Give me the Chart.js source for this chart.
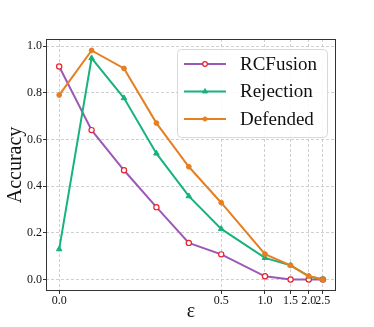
<!DOCTYPE html>
<html>
<head>
<meta charset="utf-8">
<script src="https://cdn.jsdelivr.net/npm/chart.js@4/dist/chart.umd.min.js"></script>
<style>
  html, body { margin: 0; padding: 0; background: #fff; }
  #wrap { width: 374px; height: 327px; }
</style>
</head>
<body>
<div id="wrap"><canvas id="chart1"></canvas></div>
<script>
// data
var epsilons = [0.0, 0.1, 0.2, 0.3, 0.4, 0.5, 1.0, 1.5, 2.0, 2.5];
var rcfusion = [0.912, 0.640, 0.468, 0.310, 0.157, 0.108, 0.014, 0.0, 0.0, 0.0];
var rejection = [0.130, 0.948, 0.777, 0.540, 0.357, 0.217, 0.093, 0.061, 0.014, 0.0];
var defended = [0.790, 0.981, 0.904, 0.670, 0.483, 0.329, 0.109, 0.061, 0.015, 0.0];
var xTicks = [0.0, 0.5, 1.0, 1.5, 2.0, 2.5];
var yTicks = [0.0, 0.2, 0.4, 0.6, 0.8, 1.0];

var serif = '"Liberation Serif", "Times New Roman", serif';

// x axis: linear up to 0.5, logarithmic after that
function fwd(v) { return v <= 0.5 ? v : 0.5 + 0.1948 * Math.log(v / 0.5); }
function inv(t) { return t <= 0.5 ? t : 0.5 * Math.exp((t - 0.5) / 0.1948); }

class PiecewiseScale extends Chart.LinearScale {
  getPixelForValue(value) {
    var a = fwd(this.min), b = fwd(this.max);
    return this.getPixelForDecimal((fwd(value) - a) / (b - a));
  }
  getValueForPixel(pixel) {
    var a = fwd(this.min), b = fwd(this.max);
    return inv(a + this.getDecimalForPixel(pixel) * (b - a));
  }
}
PiecewiseScale.id = 'piecewise';
PiecewiseScale.defaults = Chart.LinearScale.defaults;
Chart.register(PiecewiseScale);

function points(ys) {
  return ys.map(function (y, i) { return { x: epsilons[i], y: y }; });
}

var frame = {
  id: 'frame',
  afterDatasetsDraw: function (chart) {
    var a = chart.chartArea, ctx = chart.ctx;
    ctx.save();
    ctx.strokeStyle = '#333';
    ctx.lineWidth = 1;
    ctx.strokeRect(a.left + 0.5, a.top + 0.5, a.right - a.left - 1, a.bottom - a.top - 1);
    ctx.restore();
  }
};

var legendBox = {
  id: 'legendBox',
  afterDraw: function (chart) {
    var ctx = chart.ctx;
    var x = 177, y = 49, w = 150, h = 88;
    ctx.save();
    ctx.fillStyle = 'rgba(255,255,255,0.85)';
    ctx.strokeStyle = '#d8d8d8';
    ctx.lineWidth = 1;
    ctx.beginPath();
    ctx.roundRect(x + 0.5, y + 0.5, w, h, 4);
    ctx.fill();
    ctx.stroke();
    chart.data.datasets.forEach(function (ds, i) {
      var cy = 64 + i * 27.5;
      var r = ds.pointRadius - 0.3;
      ctx.strokeStyle = ds.borderColor;
      ctx.lineWidth = ds.borderWidth;
      ctx.beginPath();
      ctx.moveTo(184, cy);
      ctx.lineTo(226, cy);
      ctx.stroke();
      ctx.fillStyle = ds.pointBackgroundColor;
      ctx.strokeStyle = ds.pointBorderColor;
      ctx.lineWidth = ds.pointBorderWidth;
      ctx.beginPath();
      if (ds.pointStyle === 'triangle') {
        ctx.moveTo(205, cy - r);
        ctx.lineTo(205 + r * 0.87, cy + r * 0.5);
        ctx.lineTo(205 - r * 0.87, cy + r * 0.5);
        ctx.closePath();
      } else {
        ctx.arc(205, cy, r, 0, Math.PI * 2);
      }
      ctx.fill();
      ctx.stroke();
      ctx.fillStyle = '#111';
      ctx.font = '19px ' + serif;
      ctx.textBaseline = 'middle';
      ctx.fillText(ds.label, 240, cy + 1);
    });
    ctx.restore();
  }
};

var gridOpts = {
  color: '#c4c4c4',
  lineWidth: 0.8,
  tickLength: 3,
  tickColor: '#333',
  tickWidth: 1
};

var ctx = document.getElementById('chart1').getContext('2d');
var chart = new Chart(ctx, {
  type: 'line',
  data: {
    datasets: [{
      label: 'RCFusion',
      data: points(rcfusion),
      borderColor: '#9b59b6',
      pointStyle: 'circle',
      pointRadius: 2.6,
      pointBorderWidth: 1.2,
      pointBackgroundColor: '#ffffff',
      pointBorderColor: '#e8202a',
      borderWidth: 2,
      order: 3
    }, {
      label: 'Rejection',
      data: points(rejection),
      borderColor: '#16b37b',
      pointStyle: 'triangle',
      pointRadius: 3.2,
      pointBorderWidth: 1,
      pointBackgroundColor: '#16b37b',
      pointBorderColor: '#16b37b',
      borderWidth: 2,
      order: 2
    }, {
      label: 'Defended',
      data: points(defended),
      borderColor: '#e67e22',
      pointStyle: 'circle',
      pointRadius: 2.4,
      pointBorderWidth: 1,
      pointBackgroundColor: '#e67e22',
      pointBorderColor: '#e67e22',
      borderWidth: 2,
      order: 1
    }]
  },
  options: {
    responsive: true,
    maintainAspectRatio: false,
    animation: false,
    devicePixelRatio: 1,
    layout: { padding: { left: 0, right: 38, top: 39, bottom: 0 } },
    plugins: { legend: { display: false }, tooltip: { enabled: false } },
    scales: {
      x: {
        type: 'piecewise',
        min: -0.0407,
        max: 3.08,
        afterBuildTicks: function (scale) {
          scale.ticks = xTicks.map(function (v) { return { value: v }; });
        },
        afterFit: function (scale) { scale.height = 36; },
        border: { display: false, dash: [3, 2] },
        grid: gridOpts,
        ticks: {
          autoSkip: false,
          maxRotation: 0,
          padding: 0,
          color: '#111',
          font: { family: serif, size: 12 },
          callback: function (v) { return Number(v).toFixed(1); }
        },
        title: {
          display: true,
          text: 'ε',
          color: '#111',
          font: { family: serif, size: 20 },
          padding: { top: 0, bottom: 3 }
        }
      },
      y: {
        min: -0.049,
        max: 1.03,
        afterBuildTicks: function (scale) {
          scale.ticks = yTicks.map(function (v) { return { value: v }; });
        },
        afterFit: function (scale) { scale.width = 46; },
        border: { display: false, dash: [3, 2] },
        grid: gridOpts,
        ticks: {
          padding: 1,
          color: '#111',
          font: { family: serif, size: 12 },
          callback: function (v) { return Number(v).toFixed(1); }
        },
        title: {
          display: true,
          text: 'Accuracy',
          color: '#111',
          font: { family: serif, size: 20 },
          padding: { top: 4, bottom: 0 }
        }
      }
    }
  },
  plugins: [frame, legendBox]
});
</script>
</body>
</html>
